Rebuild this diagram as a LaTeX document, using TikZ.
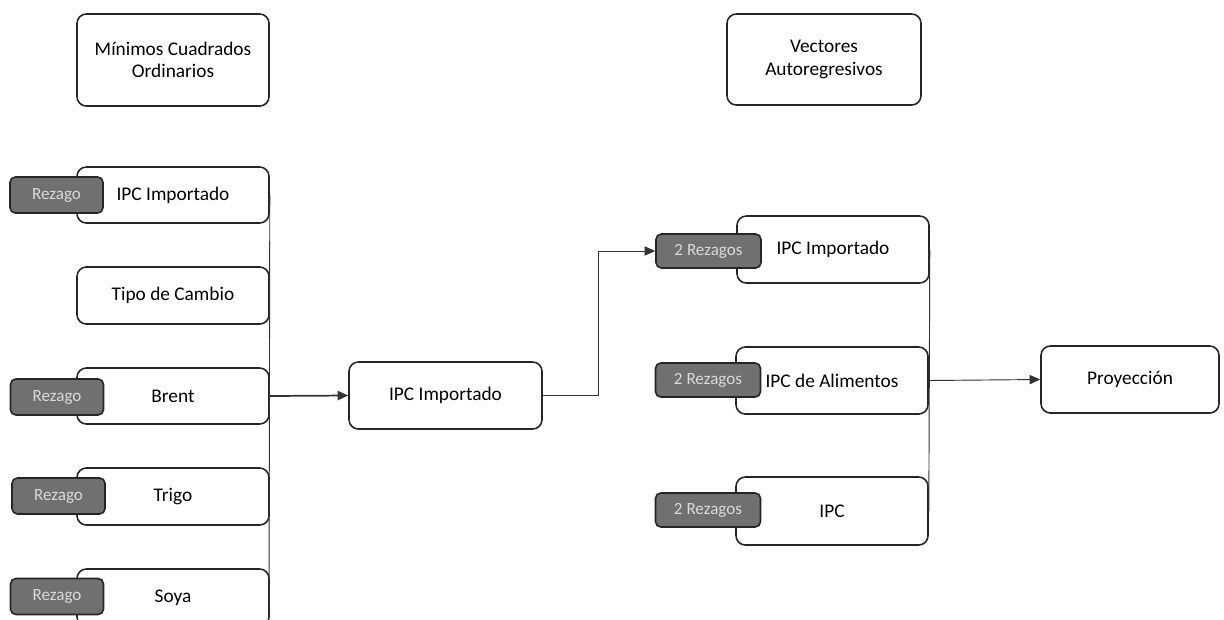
\documentclass[tikz,border=0pt]{standalone}
\usepackage{fontspec}
\setmainfont{Carlito}
\usetikzlibrary{arrows.meta}
\definecolor{tagfill}{HTML}{707070}
\definecolor{tagtext}{HTML}{DADADA}
\begin{document}
\begin{tikzpicture}[x=0.75pt,y=-0.75pt,
  box/.style={draw=black!85,line width=1.2pt,rounded corners=7pt,fill=white,align=center,
    font=\fontsize{14.5}{17}\selectfont,inner sep=0pt},
  tagbox/.style={draw=black!85,line width=1.2pt,rounded corners=4pt,fill=tagfill,text=tagtext,
    font=\fontsize{12.8}{15}\selectfont,inner sep=0pt},
  link/.style={draw=black!80,line width=0.7pt},
  arr/.style={link,-{Triangle[length=8pt,width=7pt]}}]
\clip (0,0) rectangle (1224,619);
\fill[white] (0,0) rectangle (1224,619);
% top headers
\node[box,minimum width=144pt,minimum height=69pt] (mco) at (173,60) {Mínimos Cuadrados\\Ordinarios};
\node[box,minimum width=145.5pt,minimum height=68.25pt] (var) at (824,59.5) {Vectores\\Autoregresivos};
% left column
\node[box,minimum width=144pt,minimum height=42pt] (l1) at (173,195) {IPC Importado};
\node[box,minimum width=144pt,minimum height=42.75pt] (l2) at (173,295.5) {Tipo de Cambio};
\node[box,minimum width=144pt,minimum height=42pt] (l3) at (173,396) {Brent};
\node[box,minimum width=144pt,minimum height=42.75pt] (l4) at (173,496.5) {Trigo};
\node[box,minimum width=144pt,minimum height=42.75pt] (l5) at (173,597.5) {Soya};
\node[tagbox,minimum width=69.75pt,minimum height=27pt] (t1) at (56.5,195) {Rezago};
\node[tagbox,minimum width=69.75pt,minimum height=27pt] (t3) at (57,397) {Rezago};
\node[tagbox,minimum width=69.75pt,minimum height=27pt] (t4) at (58.5,496) {Rezago};
\node[tagbox,minimum width=69.75pt,minimum height=27pt] (t5) at (57,596.5) {Rezago};
\coordinate (lbot) at (269,619);
% middle
\node[box,minimum width=144.75pt,minimum height=50.25pt] (mid) at (445.5,395.5) {IPC Importado};
% right column
\node[box,minimum width=144pt,minimum height=50.25pt] (r1) at (833,249.5) {IPC Importado};
\node[box,minimum width=144pt,minimum height=50.25pt] (r2) at (832,380.5) {IPC de Alimentos};
\node[box,minimum width=144pt,minimum height=51pt] (r3) at (832,511) {IPC};
\node[tagbox,minimum width=78.75pt,minimum height=25.5pt] (g1) at (708.5,251) {2 Rezagos};
\node[tagbox,minimum width=78.75pt,minimum height=25.5pt] (g2) at (708,380) {2 Rezagos};
\node[tagbox,minimum width=78.75pt,minimum height=25.5pt] (g3) at (708,510) {2 Rezagos};
% projection
\node[box,minimum width=133.5pt,minimum height=50.25pt] (proy) at (1130,379.5) {Proyección};
% connectors
\draw[link] (l1.east) -- (lbot);
\draw[arr,line width=1.3pt] (l3.east) -- (mid.west);
\coordinate (bend) at (598.5,395.5);
\draw[arr] (mid.east) -- (bend) |- (g1.west);
\draw[link] (r1.east) -- (r3.east);
\draw[arr] (r2.east) -- (proy.west);
\end{tikzpicture}
\end{document}
